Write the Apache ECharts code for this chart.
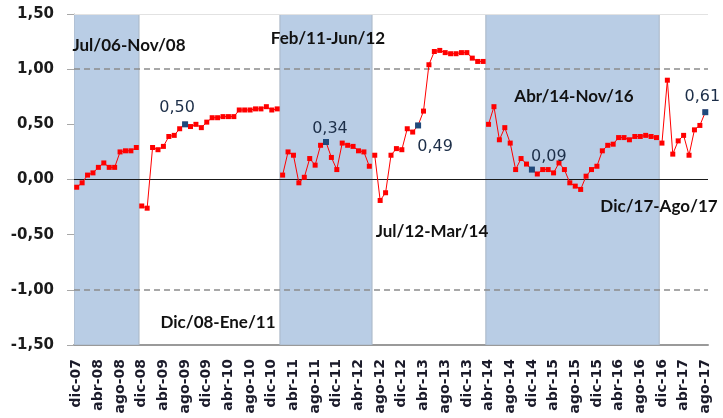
<!DOCTYPE html>
<html lang="es">
<head>
    <meta charset="utf-8">
    <title>Periodos</title>
    <script src="https://cdn.jsdelivr.net/npm/echarts@6.0.0/dist/echarts.min.js"></script>
    <style>
        html, body { margin: 0; padding: 0; background: #fff; }
        #chart { width: 723px; height: 418px; }
    </style>
</head>
<body>
    <div id="chart"></div>
    <script>
        // Month names used to build the category labels (dic-07 .. ago-17)
        const monthNames = ['ene', 'feb', 'mar', 'abr', 'may', 'jun', 'jul', 'ago', 'sep', 'oct', 'nov', 'dic'];
        const categories = [];
        for (let k = 0; k < 117; k++) {
            const m = (11 + k) % 12;
            const y = 7 + Math.floor((11 + k) / 12);
            categories.push(monthNames[m] + '-' + String(y).padStart(2, '0'));
        }

        // Monthly values
        const values = [
            // dic-07 .. nov-08
            -0.07, -0.03, 0.04, 0.06, 0.11, 0.15, 0.11, 0.11, 0.25, 0.26, 0.26, 0.29,
            // dic-08 .. ene-11
            -0.24, -0.26, 0.29, 0.27, 0.30, 0.39, 0.40, 0.46, 0.50, 0.48, 0.50, 0.47, 0.52,
            0.56, 0.56, 0.57, 0.57, 0.57, 0.63, 0.63, 0.63, 0.64, 0.64, 0.66, 0.63, 0.64,
            // feb-11 .. jun-12
            0.04, 0.25, 0.22, -0.03, 0.02, 0.19, 0.13, 0.31, 0.34, 0.20, 0.09, 0.33, 0.31,
            0.30, 0.26, 0.25, 0.12,
            // jul-12 .. mar-14
            0.22, -0.19, -0.12, 0.22, 0.28, 0.27, 0.46, 0.43, 0.49, 0.62, 1.04, 1.16, 1.17,
            1.15, 1.14, 1.14, 1.15, 1.15, 1.10, 1.07, 1.07,
            // abr-14 .. nov-16
            0.50, 0.66, 0.36, 0.47, 0.33, 0.09, 0.19, 0.14, 0.09, 0.05, 0.09, 0.09, 0.06,
            0.15, 0.09, -0.03, -0.06, -0.09, 0.03, 0.09, 0.12, 0.26, 0.31, 0.32, 0.38, 0.38,
            0.36, 0.39, 0.39, 0.40, 0.39, 0.38,
            // dic-16 .. ago-17
            0.33, 0.90, 0.23, 0.35, 0.40, 0.22, 0.45, 0.49, 0.61
        ];

        // Shaded periods (first and last month of each)
        const bandRanges = [['dic-07', 'nov-08'], ['feb-11', 'jun-12'], ['abr-14', 'nov-16']];
        // Points with a value label
        const highlighted = ['ago-09', 'oct-11', 'mar-13', 'dic-14', 'ago-17'];
        const highlightOffsets = [[-8, 0], [4, 3], [17, 5], [17, 3], [-3, 1]];
        const highlightPositions = ['top', 'top', 'bottom', 'top', 'top'];

        // Period annotations
        const periodLabels = ['Jul/06-Nov/08', 'Dic/08-Ene/11', 'Feb/11-Jun/12', 'Jul/12-Mar/14', 'Abr/14-Nov/16', 'Dic/17-Ago/17'];
        const periodLabelPos = [[129, 46], [218, 323], [328, 39], [432, 232], [574, 97], [659, 207]];

        const bandIdx = bandRanges.map(r => [categories.indexOf(r[0]), categories.indexOf(r[1])]);
        const inBand = categories.map((c, i) => bandIdx.some(r => i >= r[0] && i <= r[1]));

        const valuesIn = values.map((v, i) => inBand[i] ? v : '-');
        const valuesOut = values.map((v, i) => inBand[i] ? '-' : v);

        const fmt = v => v.toFixed(2).replace('.', ',');

        const chart = echarts.init(document.getElementById('chart'), null, { renderer: 'canvas' });

        const lineBase = {
            type: 'line',
            symbol: 'rect',
            symbolSize: 5,
            showAllSymbol: true,
            connectNulls: false,
            itemStyle: { color: '#ff0000' },
            lineStyle: { color: '#ff0000', width: 1 },
            z: 5
        };

        // shaded band covering whole category slots from start to end month
        function renderBand(params, api) {
            const top = api.coord([api.value(0), 1.5]);
            const bottom = api.coord([api.value(1), -1.5]);
            const w = api.size([1, 0])[0];
            return {
                type: 'rect',
                shape: {
                    x: top[0] - w / 2,
                    y: top[1],
                    width: bottom[0] - top[0] + w,
                    height: bottom[1] - top[1]
                },
                style: { fill: '#b9cde5', stroke: '#a9b6c6', lineWidth: 1 }
            };
        }

        chart.setOption({
            animation: false,
            backgroundColor: '#ffffff',
            grid: { left: 74, right: 15, top: 14, bottom: 73 },
            xAxis: {
                type: 'category',
                data: categories,
                boundaryGap: true,
                axisLine: { onZero: false, lineStyle: { color: '#9a9a9a', width: 2 } },
                axisTick: { interval: 3, inside: true, length: 5, lineStyle: { color: '#9a9a9a' } },
                axisLabel: {
                    interval: 3,
                    rotate: 90,
                    margin: 14,
                    color: '#1b1b2a',
                    fontFamily: 'DejaVu Sans',
                    fontWeight: 'bold',
                    fontSize: 14
                },
                splitLine: { show: false }
            },
            yAxis: {
                type: 'value',
                min: -1.5,
                max: 1.5,
                interval: 0.5,
                axisLine: { show: true, lineStyle: { color: '#a8a8a8' } },
                axisTick: { show: true, length: 7, lineStyle: { color: '#a8a8a8' } },
                axisLabel: {
                    margin: 20,
                    formatter: fmt,
                    color: '#1b1b1b',
                    fontFamily: 'DejaVu Sans',
                    fontWeight: 'bold',
                    fontSize: 15
                },
                splitLine: { show: false }
            },
            series: [
                {
                    type: 'custom',
                    renderItem: renderBand,
                    data: bandIdx,
                    encode: { x: [0, 1] },
                    silent: true,
                    clip: true,
                    z: 1,
                    markLine: {
                        silent: true,
                        symbol: 'none',
                        label: { show: false },
                        data: [
                            { yAxis: 1.5, lineStyle: { color: '#e2e2e2', width: 1, type: 'solid' } },
                            { yAxis: 1, lineStyle: { color: '#8c8c8c', width: 1.5, type: [6, 4] } },
                            { yAxis: -1, lineStyle: { color: '#8c8c8c', width: 1.5, type: [6, 4] } },
                            { yAxis: 0, lineStyle: { color: '#1a1a1a', width: 1, type: 'solid' } }
                        ]
                    }
                },
                Object.assign({}, lineBase, { data: valuesIn }),
                Object.assign({}, lineBase, { data: valuesOut }),
                {
                    type: 'scatter',
                    symbol: 'rect',
                    symbolSize: 6,
                    itemStyle: { color: '#1f4a7c', opacity: 1 },
                    z: 6,
                    data: highlighted.map((c, k) => ({
                        value: [c, values[categories.indexOf(c)]],
                        label: {
                            show: true,
                            position: highlightPositions[k],
                            offset: highlightOffsets[k],
                            formatter: p => fmt(p.value[1]),
                            color: '#1c2e48',
                            fontFamily: 'DejaVu Sans',
                            fontSize: 16
                        }
                    }))
                }
            ],
            graphic: periodLabels.map((t, k) => ({
                type: 'text',
                x: periodLabelPos[k][0],
                y: periodLabelPos[k][1],
                z: 10,
                style: {
                    text: t,
                    font: 'bold 17px Lato',
                    fill: '#111111',
                    align: 'center',
                    verticalAlign: 'middle'
                }
            }))
        });

        window.addEventListener('resize', () => chart.resize());
    </script>
</body>
</html>
